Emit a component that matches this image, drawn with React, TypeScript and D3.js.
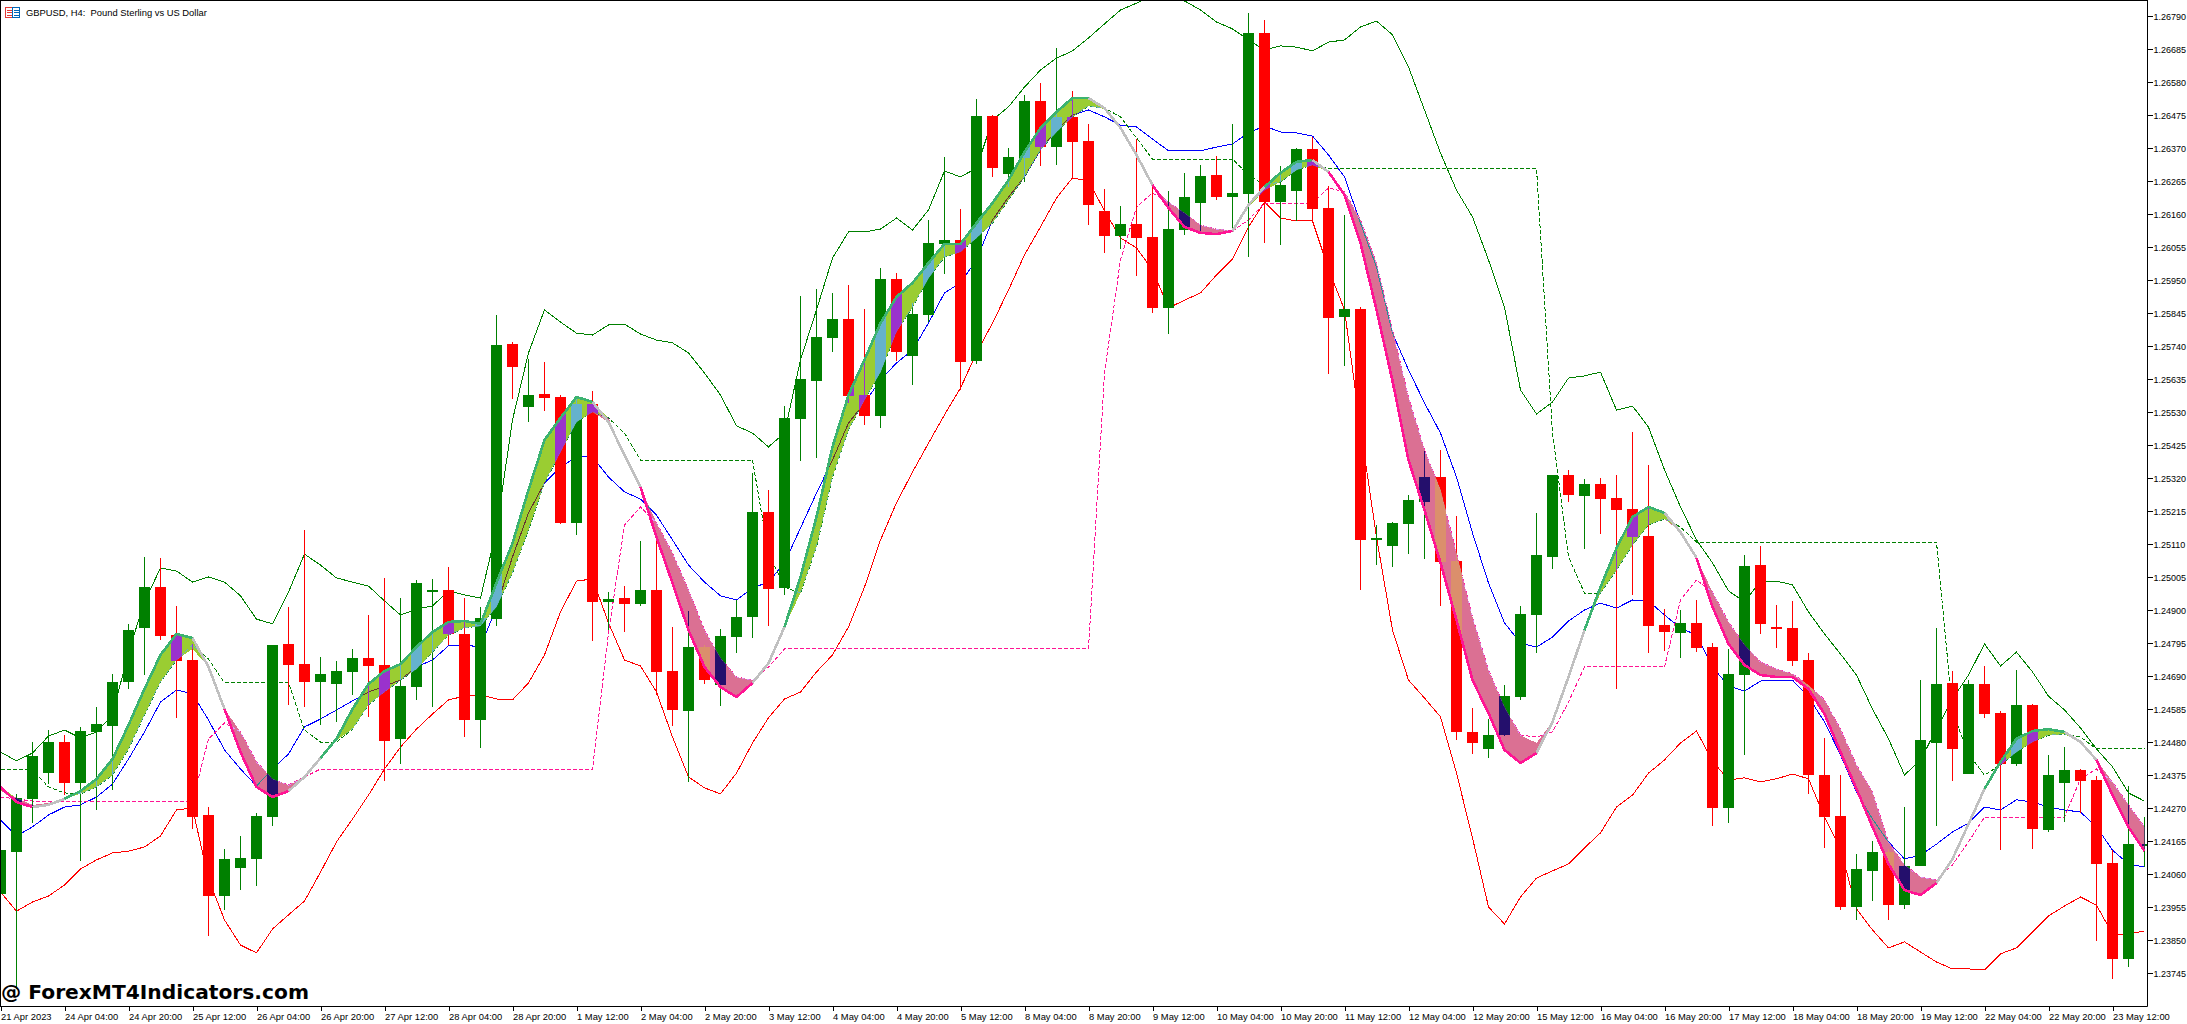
import { useEffect, useRef } from 'react';
import * as d3 from 'd3';

const opens = [
  1.23997, 1.24131, 1.24300, 1.24382, 1.24481, 1.24351, 1.24513, 1.24532, 1.24672, 1.24844,
  1.24974, 1.24821, 1.24742, 1.24249, 1.23991, 1.24080, 1.24109, 1.24242, 1.24793, 1.24729,
  1.24672, 1.24666, 1.24704, 1.24748, 1.24726, 1.24491, 1.24656, 1.24962, 1.24965, 1.24825,
  1.24551, 1.24872, 1.25747, 1.25547, 1.25588, 1.25579, 1.25178, 1.25557, 1.24927, 1.24939,
  1.24920, 1.24965, 1.24707, 1.24580, 1.24783, 1.24662, 1.24815, 1.24879, 1.25213, 1.24971,
  1.25509, 1.25630, 1.25767, 1.25827, 1.25585, 1.25518, 1.25954, 1.25709, 1.25840, 1.26066,
  1.26078, 1.25693, 1.26473, 1.26288, 1.26339, 1.26521, 1.26374, 1.26470, 1.26393, 1.26171,
  1.26091, 1.26129, 1.26088, 1.25862, 1.26110, 1.26196, 1.26285, 1.26215, 1.26225, 1.26737,
  1.26199, 1.26234, 1.26368, 1.26180, 1.25833, 1.25859, 1.25124, 1.25105, 1.25175, 1.25245,
  1.25324, 1.25057, 1.24513, 1.24459, 1.24503, 1.24624, 1.24885, 1.25070, 1.25331, 1.25264,
  1.25302, 1.25257, 1.25222, 1.25137, 1.24853, 1.24828, 1.24860, 1.24783, 1.24271, 1.24694,
  1.25044, 1.24847, 1.24844, 1.24742, 1.24376, 1.24246, 1.23956, 1.24071, 1.24131, 1.23962,
  1.24086, 1.24478, 1.24669, 1.24379, 1.24666, 1.24573, 1.24411, 1.24599, 1.24201, 1.24351,
  1.24392, 1.24360, 1.24096, 1.23791, 1.24153,
];
const closes = [
  1.24137, 1.24303, 1.24437, 1.24481, 1.24351, 1.24516, 1.24538, 1.24672, 1.24837, 1.24974,
  1.24818, 1.24739, 1.24242, 1.23991, 1.24109, 1.24112, 1.24246, 1.24790, 1.24726, 1.24672,
  1.24697, 1.24707, 1.24748, 1.24723, 1.24484, 1.24659, 1.24987, 1.24965, 1.24825, 1.24551,
  1.24876, 1.25744, 1.25674, 1.25585, 1.25576, 1.25178, 1.25557, 1.24927, 1.24936, 1.24920,
  1.24965, 1.24704, 1.24583, 1.24783, 1.24678, 1.24818, 1.24879, 1.25213, 1.24968, 1.25512,
  1.25636, 1.25770, 1.25827, 1.25582, 1.25518, 1.25954, 1.25722, 1.25843, 1.26069, 1.26078,
  1.25690, 1.26473, 1.26307, 1.26342, 1.26521, 1.26374, 1.26470, 1.26390, 1.26190, 1.26091,
  1.26129, 1.26085, 1.25862, 1.26113, 1.26215, 1.26282, 1.26215, 1.26228, 1.26737, 1.26199,
  1.26253, 1.26368, 1.26177, 1.25830, 1.25859, 1.25124, 1.25130, 1.25178, 1.25251, 1.25324,
  1.25054, 1.24513, 1.24478, 1.24503, 1.24627, 1.24888, 1.25076, 1.25331, 1.25267, 1.25302,
  1.25254, 1.25219, 1.25133, 1.24850, 1.24831, 1.24860, 1.24780, 1.24271, 1.24697, 1.25041,
  1.24857, 1.24841, 1.24739, 1.24376, 1.24242, 1.23956, 1.24077, 1.24131, 1.23962, 1.24086,
  1.24487, 1.24666, 1.24459, 1.24666, 1.24570, 1.24411, 1.24599, 1.24204, 1.24376, 1.24392,
  1.24357, 1.24093, 1.23791, 1.24156, 1.24156,
];
const highs = [
  1.24144, 1.24316, 1.24481, 1.24519, 1.24503, 1.24529, 1.24592, 1.24697, 1.24857, 1.25070,
  1.25067, 1.24914, 1.24793, 1.24274, 1.24141, 1.24182, 1.24255, 1.24790, 1.24911, 1.25156,
  1.24752, 1.24739, 1.24777, 1.24885, 1.25003, 1.24939, 1.24997, 1.25000, 1.25038, 1.24939,
  1.24911, 1.25840, 1.25754, 1.25700, 1.25690, 1.25585, 1.25579, 1.25598, 1.24958, 1.24977,
  1.25121, 1.25121, 1.24847, 1.24898, 1.24790, 1.24841, 1.24933, 1.25337, 1.25283, 1.25550,
  1.25900, 1.25922, 1.25910, 1.25935, 1.25859, 1.25989, 1.25973, 1.25878, 1.26142, 1.26342,
  1.26177, 1.26527, 1.26476, 1.26371, 1.26540, 1.26578, 1.26689, 1.26552, 1.26447, 1.26241,
  1.26187, 1.26400, 1.26253, 1.26234, 1.26292, 1.26317, 1.26346, 1.26447, 1.26801, 1.26778,
  1.26314, 1.26371, 1.26406, 1.26250, 1.26158, 1.25865, 1.25171, 1.25181, 1.25267, 1.25407,
  1.25410, 1.25200, 1.24589, 1.24554, 1.24662, 1.24914, 1.25210, 1.25331, 1.25347, 1.25318,
  1.25321, 1.25331, 1.25467, 1.25362, 1.24904, 1.24901, 1.24933, 1.24796, 1.24777, 1.25076,
  1.25105, 1.24917, 1.24930, 1.24764, 1.24494, 1.24376, 1.24125, 1.24166, 1.24141, 1.24274,
  1.24678, 1.24844, 1.24707, 1.24678, 1.24723, 1.24580, 1.24710, 1.24602, 1.24440, 1.24465,
  1.24395, 1.24373, 1.24137, 1.24341, 1.24242,
];
const lows = [
  1.23991, 1.23695, 1.24223, 1.24347, 1.24312, 1.24102, 1.24265, 1.24328, 1.24650, 1.24694,
  1.24806, 1.24558, 1.24204, 1.23864, 1.23947, 1.24010, 1.24023, 1.24214, 1.24599, 1.24592,
  1.24535, 1.24545, 1.24631, 1.24561, 1.24357, 1.24411, 1.24615, 1.24592, 1.24790, 1.24497,
  1.24462, 1.24850, 1.25572, 1.25499, 1.25534, 1.25175, 1.25140, 1.24802, 1.24837, 1.24831,
  1.24914, 1.24631, 1.24532, 1.24354, 1.24666, 1.24596, 1.24764, 1.24812, 1.24850, 1.24949,
  1.25375, 1.25385, 1.25722, 1.25560, 1.25490, 1.25480, 1.25693, 1.25617, 1.25817, 1.25970,
  1.25601, 1.25684, 1.26279, 1.26247, 1.26263, 1.26314, 1.26317, 1.26276, 1.26126, 1.26037,
  1.26050, 1.25964, 1.25846, 1.25779, 1.26094, 1.26101, 1.26206, 1.26110, 1.26024, 1.26069,
  1.26062, 1.26139, 1.26136, 1.25652, 1.25677, 1.24965, 1.25044, 1.25038, 1.25079, 1.25063,
  1.24914, 1.24487, 1.24443, 1.24430, 1.24500, 1.24615, 1.24764, 1.25032, 1.25245, 1.25095,
  1.25143, 1.24650, 1.24949, 1.24764, 1.24771, 1.24748, 1.24767, 1.24214, 1.24223, 1.24440,
  1.24825, 1.24780, 1.24723, 1.24316, 1.24144, 1.23947, 1.23915, 1.23975, 1.23915, 1.23950,
  1.24086, 1.24214, 1.24357, 1.24379, 1.24558, 1.24137, 1.24405, 1.24141, 1.24195, 1.24227,
  1.24255, 1.23848, 1.23727, 1.23765, 1.24083,
];

// envelope around the ribbon
const upperBand = [
  1.24449, 1.24421, 1.24446, 1.24500, 1.24519, 1.24494, 1.24513, 1.24567, 1.24767, 1.24927,
  1.25035, 1.25025, 1.24990, 1.25006, 1.24990, 1.24946, 1.24872, 1.24857, 1.24958, 1.25079,
  1.25044, 1.25003, 1.24990, 1.24977, 1.24930, 1.24885, 1.24904, 1.24914, 1.24962, 1.24949,
  1.24939, 1.25156, 1.25506, 1.25719, 1.25856, 1.25817, 1.25782, 1.25776, 1.25808, 1.25811,
  1.25779, 1.25760, 1.25751, 1.25719, 1.25655, 1.25585, 1.25487, 1.25464, 1.25420, 1.25464,
  1.25697, 1.25856, 1.26021, 1.26104, 1.26104, 1.26113, 1.26148, 1.26110, 1.26174, 1.26298,
  1.26279, 1.26307, 1.26460, 1.26502, 1.26565, 1.26619, 1.26657, 1.26680, 1.26721, 1.26766,
  1.26810, 1.26832, 1.26855, 1.26855, 1.26839, 1.26810, 1.26772, 1.26750, 1.26715, 1.26683,
  1.26696, 1.26692, 1.26680, 1.26708, 1.26715, 1.26756, 1.26775, 1.26731, 1.26629, 1.26492,
  1.26355, 1.26237, 1.26152, 1.26015, 1.25865, 1.25601, 1.25525, 1.25563, 1.25639, 1.25646,
  1.25658, 1.25537, 1.25550, 1.25483, 1.25347, 1.25229, 1.25124, 1.25051, 1.24962, 1.24927,
  1.24993, 1.24993, 1.24981, 1.24895, 1.24825, 1.24761, 1.24694, 1.24586, 1.24491, 1.24376,
  1.24424, 1.24522, 1.24618, 1.24694, 1.24793, 1.24723, 1.24767, 1.24704, 1.24627, 1.24583,
  1.24526, 1.24459, 1.24402, 1.24319, 1.24293,
];
const lowerBand = [
  1.24004, 1.23943, 1.23972, 1.23991, 1.24026, 1.24077, 1.24106, 1.24128, 1.24134, 1.24147,
  1.24182, 1.24265, 1.24271, 1.24045, 1.23915, 1.23835, 1.23810, 1.23886, 1.23931, 1.23975,
  1.24067, 1.24163, 1.24236, 1.24312, 1.24395, 1.24465, 1.24522, 1.24570, 1.24615, 1.24627,
  1.24631, 1.24618, 1.24615, 1.24669, 1.24758, 1.24895, 1.24993, 1.25000, 1.24860, 1.24742,
  1.24723, 1.24640, 1.24497, 1.24370, 1.24335, 1.24316, 1.24382, 1.24478, 1.24558, 1.24618,
  1.24640, 1.24704, 1.24758, 1.24847, 1.24974, 1.25124, 1.25242, 1.25340, 1.25432, 1.25522,
  1.25607, 1.25719, 1.25814, 1.25919, 1.26031, 1.26120, 1.26212, 1.26276, 1.26266, 1.26171,
  1.26085, 1.26053, 1.25983, 1.25862, 1.25887, 1.25910, 1.25967, 1.26018, 1.26120, 1.26199,
  1.26148, 1.26139, 1.26139, 1.25986, 1.25856, 1.25480, 1.25133, 1.24837, 1.24678, 1.24621,
  1.24561, 1.24382, 1.24176, 1.23956, 1.23902, 1.23988, 1.24048, 1.24071, 1.24093, 1.24144,
  1.24192, 1.24274, 1.24312, 1.24382, 1.24424, 1.24478, 1.24516, 1.24421, 1.24360, 1.24367,
  1.24354, 1.24364, 1.24379, 1.24364, 1.24242, 1.24141, 1.23950, 1.23883, 1.23826, 1.23845,
  1.23813, 1.23781, 1.23759, 1.23759, 1.23756, 1.23807, 1.23826, 1.23877, 1.23928, 1.23959,
  1.23988, 1.23962, 1.23870, 1.23870, 1.23880,
];
const midLine = [
  1.24233, 1.24182, 1.24211, 1.24249, 1.24274, 1.24281, 1.24306, 1.24347, 1.24427, 1.24513,
  1.24608, 1.24647, 1.24634, 1.24551, 1.24456, 1.24395, 1.24341, 1.24395, 1.24443, 1.24529,
  1.24554, 1.24583, 1.24612, 1.24640, 1.24659, 1.24678, 1.24720, 1.24742, 1.24787, 1.24790,
  1.24783, 1.24911, 1.25070, 1.25210, 1.25305, 1.25356, 1.25388, 1.25388, 1.25324, 1.25277,
  1.25254, 1.25203, 1.25124, 1.25044, 1.24990, 1.24946, 1.24933, 1.24971, 1.24990, 1.25051,
  1.25162, 1.25273, 1.25378, 1.25496, 1.25560, 1.25633, 1.25687, 1.25728, 1.25814, 1.25910,
  1.25942, 1.26015, 1.26142, 1.26215, 1.26279, 1.26365, 1.26428, 1.26476, 1.26492, 1.26470,
  1.26444, 1.26438, 1.26400, 1.26362, 1.26362, 1.26362, 1.26374, 1.26384, 1.26419, 1.26441,
  1.26422, 1.26419, 1.26409, 1.26349, 1.26279, 1.26132, 1.25992, 1.25782, 1.25665, 1.25560,
  1.25464, 1.25324, 1.25146, 1.24987, 1.24860, 1.24796, 1.24783, 1.24815, 1.24866, 1.24901,
  1.24923, 1.24907, 1.24933, 1.24930, 1.24885, 1.24844, 1.24821, 1.24720, 1.24659, 1.24643,
  1.24675, 1.24678, 1.24678, 1.24624, 1.24545, 1.24440, 1.24322, 1.24236, 1.24163, 1.24109,
  1.24121, 1.24156, 1.24195, 1.24223, 1.24274, 1.24265, 1.24297, 1.24290, 1.24274, 1.24265,
  1.24258, 1.24211, 1.24137, 1.24093, 1.24083,
];

// ribbon edges
const fastLine = [
  1.24338, 1.24290, 1.24274, 1.24281, 1.24300, 1.24325, 1.24363, 1.24427, 1.24535, 1.24650,
  1.24758, 1.24825, 1.24812, 1.24720, 1.24586, 1.24449, 1.24338, 1.24306, 1.24325, 1.24370,
  1.24430, 1.24491, 1.24586, 1.24666, 1.24707, 1.24729, 1.24783, 1.24831, 1.24863, 1.24866,
  1.24857, 1.24987, 1.25114, 1.25283, 1.25442, 1.25512, 1.25579, 1.25563, 1.25499, 1.25394,
  1.25292, 1.25133, 1.24987, 1.24837, 1.24720, 1.24656, 1.24624, 1.24669, 1.24732, 1.24847,
  1.25006, 1.25197, 1.25420, 1.25585, 1.25697, 1.25814, 1.25897, 1.25942, 1.26005, 1.26066,
  1.26066, 1.26132, 1.26196, 1.26269, 1.26358, 1.26435, 1.26486, 1.26530, 1.26530, 1.26498,
  1.26435, 1.26349, 1.26253, 1.26180, 1.26120, 1.26101, 1.26097, 1.26107, 1.26190, 1.26247,
  1.26292, 1.26327, 1.26333, 1.26295, 1.26222, 1.26069, 1.25856, 1.25630, 1.25378, 1.25219,
  1.25051, 1.24869, 1.24678, 1.24573, 1.24456, 1.24414, 1.24446, 1.24545, 1.24688, 1.24837,
  1.24974, 1.25098, 1.25197, 1.25229, 1.25210, 1.25149, 1.25067, 1.24911, 1.24793, 1.24726,
  1.24694, 1.24688, 1.24688, 1.24650, 1.24570, 1.24449, 1.24332, 1.24211, 1.24093, 1.24010,
  1.23994, 1.24032, 1.24109, 1.24220, 1.24332, 1.24418, 1.24491, 1.24516, 1.24522, 1.24513,
  1.24481, 1.24424, 1.24312, 1.24211, 1.24134,
];
const slowLine = [
  1.24328, 1.24303, 1.24281, 1.24287, 1.24300, 1.24316, 1.24338, 1.24376, 1.24459, 1.24567,
  1.24672, 1.24742, 1.24777, 1.24720, 1.24586, 1.24513, 1.24418, 1.24363, 1.24344, 1.24370,
  1.24430, 1.24487, 1.24522, 1.24599, 1.24640, 1.24678, 1.24713, 1.24767, 1.24821, 1.24844,
  1.24850, 1.24911, 1.25019, 1.25156, 1.25305, 1.25404, 1.25499, 1.25531, 1.25512, 1.25394,
  1.25292, 1.25178, 1.25082, 1.24965, 1.24837, 1.24748, 1.24688, 1.24678, 1.24732, 1.24847,
  1.24955, 1.25102, 1.25324, 1.25474, 1.25569, 1.25658, 1.25786, 1.25865, 1.25957, 1.26024,
  1.26040, 1.26085, 1.26132, 1.26206, 1.26279, 1.26365, 1.26422, 1.26470, 1.26505, 1.26495,
  1.26435, 1.26349, 1.26253, 1.26199, 1.26164, 1.26126, 1.26113, 1.26110, 1.26183, 1.26237,
  1.26263, 1.26301, 1.26317, 1.26295, 1.26231, 1.26142, 1.26005, 1.25792, 1.25579, 1.25410,
  1.25283, 1.25082, 1.24879, 1.24710, 1.24592, 1.24503, 1.24478, 1.24545, 1.24688, 1.24837,
  1.24955, 1.25028, 1.25108, 1.25172, 1.25191, 1.25156, 1.25067, 1.24958, 1.24863, 1.24790,
  1.24736, 1.24713, 1.24698, 1.24662, 1.24615, 1.24522, 1.24408, 1.24322, 1.24163, 1.24090,
  1.24052, 1.24042, 1.24109, 1.24220, 1.24332, 1.24408, 1.24449, 1.24481, 1.24503, 1.24506,
  1.24481, 1.24424, 1.24354, 1.24281, 1.24211,
];

// dashed stop levels
const stopGreen = [
  1.24392, 1.24392, 1.24392, 1.24338, 1.24319, 1.24316, 1.24338, 1.24376, 1.24459, 1.24567,
  1.24672, 1.24742, 1.24790, 1.24745, 1.24669, 1.24669, 1.24669, 1.24669, 1.24669, 1.24519,
  1.24481, 1.24481, 1.24522, 1.24599, 1.24640, 1.24678, 1.24713, 1.24767, 1.24821, 1.24844,
  1.24850, 1.24911, 1.25019, 1.25156, 1.25305, 1.25404, 1.25499, 1.25531, 1.25512, 1.25464,
  1.25378, 1.25378, 1.25378, 1.25378, 1.25378, 1.25378, 1.25378, 1.25378, 1.25082, 1.24974,
  1.24955, 1.25102, 1.25324, 1.25474, 1.25569, 1.25658, 1.25786, 1.25865, 1.25957, 1.26024,
  1.26040, 1.26085, 1.26132, 1.26206, 1.26279, 1.26365, 1.26422, 1.26470, 1.26505, 1.26498,
  1.26470, 1.26403, 1.26336, 1.26336, 1.26336, 1.26336, 1.26336, 1.26336, 1.26285, 1.26253,
  1.26263, 1.26301, 1.26317, 1.26307, 1.26307, 1.26307, 1.26307, 1.26307, 1.26307, 1.26307,
  1.26307, 1.26307, 1.26307, 1.26307, 1.26307, 1.26307, 1.26307, 1.25464, 1.25070, 1.24955,
  1.24955, 1.25028, 1.25108, 1.25172, 1.25191, 1.25165, 1.25117, 1.25117, 1.25117, 1.25117,
  1.25117, 1.25117, 1.25117, 1.25117, 1.25117, 1.25117, 1.25117, 1.25117, 1.25117, 1.25117,
  1.25117, 1.25117, 1.24577, 1.24443, 1.24376, 1.24408, 1.24449, 1.24481, 1.24503, 1.24506,
  1.24497, 1.24459, 1.24459, 1.24459, 1.24459,
];
const stopPink = [
  1.24306, 1.24300, 1.24293, 1.24293, 1.24293, 1.24293, 1.24293, 1.24293, 1.24293, 1.24293,
  1.24293, 1.24293, 1.24293, 1.24491, 1.24542, 1.24513, 1.24418, 1.24363, 1.24344, 1.24370,
  1.24395, 1.24395, 1.24395, 1.24395, 1.24395, 1.24395, 1.24395, 1.24395, 1.24395, 1.24395,
  1.24395, 1.24395, 1.24395, 1.24395, 1.24395, 1.24395, 1.24395, 1.24395, 1.24828, 1.25171,
  1.25229, 1.25178, 1.25082, 1.24965, 1.24837, 1.24748, 1.24688, 1.24678, 1.24720, 1.24777,
  1.24777, 1.24777, 1.24777, 1.24777, 1.24777, 1.24777, 1.24777, 1.24777, 1.24777, 1.24777,
  1.24777, 1.24777, 1.24777, 1.24777, 1.24777, 1.24777, 1.24777, 1.24777, 1.24777, 1.25655,
  1.26015, 1.26183, 1.26228, 1.26199, 1.26164, 1.26126, 1.26113, 1.26107, 1.26142, 1.26196,
  1.26196, 1.26196, 1.26196, 1.26244, 1.26231, 1.26142, 1.26005, 1.25792, 1.25579, 1.25410,
  1.25283, 1.25082, 1.24879, 1.24710, 1.24592, 1.24503, 1.24497, 1.24513, 1.24608, 1.24720,
  1.24720, 1.24720, 1.24720, 1.24720, 1.24720, 1.24933, 1.24997, 1.24958, 1.24863, 1.24790,
  1.24736, 1.24713, 1.24698, 1.24662, 1.24615, 1.24522, 1.24408, 1.24322, 1.24163, 1.24090,
  1.24052, 1.24042, 1.24090, 1.24163, 1.24242, 1.24242, 1.24242, 1.24242, 1.24242, 1.24242,
  1.24364, 1.24395, 1.24354, 1.24281, 1.24211,
];

// colour of the thick ribbon line, as [first candle, last candle, trend]
const trendRuns: [number, number, string][] = [
  [0, 2, 'down'], [2, 4, 'flip'], [4, 12, 'up'], [12, 14, 'flip'], [14, 18, 'down'], [18, 20, 'flip'],
  [20, 37, 'up'], [37, 40, 'flip'], [40, 47, 'down'], [47, 49, 'flip'], [49, 68, 'up'], [68, 72, 'flip'],
  [72, 77, 'down'], [77, 79, 'flip'], [79, 82, 'up'], [82, 83, 'flip'], [83, 96, 'down'], [96, 99, 'flip'],
  [99, 104, 'up'], [104, 106, 'flip'], [106, 121, 'down'], [121, 124, 'flip'], [124, 129, 'up'],
  [129, 131, 'flip'], [131, 134, 'down'],
];

const priceTicks = [
  1.2679, 1.26685, 1.2658, 1.26475, 1.2637, 1.26265, 1.2616, 1.26055, 1.2595, 1.25845,
  1.2574, 1.25635, 1.2553, 1.25425, 1.2532, 1.25215, 1.2511, 1.25005, 1.249, 1.24795,
  1.2469, 1.24585, 1.2448, 1.24375, 1.2427, 1.24165, 1.2406, 1.23955, 1.2385, 1.23745,
];
const timeLabels = [
  '21 Apr 2023', '24 Apr 04:00', '24 Apr 20:00', '25 Apr 12:00', '26 Apr 04:00', '26 Apr 20:00',
  '27 Apr 12:00', '28 Apr 04:00', '28 Apr 20:00', '1 May 12:00', '2 May 04:00', '2 May 20:00',
  '3 May 12:00', '4 May 04:00', '4 May 20:00', '5 May 12:00', '8 May 04:00', '8 May 20:00',
  '9 May 12:00', '10 May 04:00', '10 May 20:00', '11 May 12:00', '12 May 04:00', '12 May 20:00',
  '15 May 12:00', '16 May 04:00', '16 May 20:00', '17 May 12:00', '18 May 04:00', '18 May 20:00',
  '19 May 12:00', '22 May 04:00', '22 May 20:00', '23 May 12:00',
];
const TIME_STEP = 4;

const BULL = '#008000';
const BEAR = '#ff0000';
const UP_FILL = '#9acd32';
const DOWN_FILL = '#db7093';
const trendColor: Record<string, string> = { up: '#3cb371', down: '#ff1493', flip: '#c0c0c0' };

// the terminal paints the ribbon with XOR, so bars under it change colour
function xorPaint(base: string, fill: string) {
  const b = d3.rgb(base);
  const f = d3.rgb(fill);
  return d3.rgb(b.r ^ (255 - f.r), b.g ^ (255 - f.g), b.b ^ (255 - f.b)).formatHex();
}

const AXIS_FONT = '"Liberation Sans", Arial, sans-serif';

export default function App() {
  const svgRef = useRef<SVGSVGElement>(null);

  useEffect(() => {
    if (!svgRef.current) return;
    const svg = d3.select(svgRef.current);
    svg.selectAll('*').remove();

    const plotRight = 2147;
    const plotBottom = 1006;
    const idx = d3.range(opens.length);

    const x = d3.scaleLinear().domain([0, 134]).range([0.5, 2144.5]);
    const y = d3.scaleLinear().domain([1.2679, 1.23745]).range([16.33, 973.33]);

    svg.append('rect').attr('width', 2187).attr('height', 1024).attr('fill', '#fff');

    const defs = svg.append('defs');
    defs.append('clipPath').attr('id', 'plot').append('rect')
      .attr('x', 1).attr('y', 1).attr('width', plotRight - 1).attr('height', plotBottom - 1);

    const linePath = (values: number[]) =>
      d3.line<number>().x(i => x(i)).y(i => y(values[i]))(idx) as string;

    const upArea = d3.area<number>().x(i => x(i))
      .y0(i => y(slowLine[i])).y1(i => y(Math.max(fastLine[i], slowLine[i])))(idx) as string;
    const downArea = d3.area<number>().x(i => x(i))
      .y0(i => y(slowLine[i])).y1(i => y(Math.min(fastLine[i], slowLine[i])))(idx) as string;
    defs.append('clipPath').attr('id', 'rib-up').append('path').attr('d', upArea);
    defs.append('clipPath').attr('id', 'rib-down').append('path').attr('d', downArea);

    const plot = svg.append('g').attr('clip-path', 'url(#plot)').attr('shape-rendering', 'crispEdges');

    const series: { values: number[]; color: string; dash?: string }[] = [
      { values: upperBand, color: BULL },
      { values: lowerBand, color: BEAR },
      { values: midLine, color: '#0000ff' },
      { values: stopGreen, color: BULL, dash: '4 2' },
      { values: stopPink, color: '#ff1493', dash: '4 2' },
    ];

    const drawLines = (g: d3.Selection<SVGGElement, unknown, null, undefined>, paint: (c: string) => string) => {
      series.forEach(s => {
        g.append('path')
          .attr('d', linePath(s.values))
          .attr('fill', 'none')
          .attr('stroke', paint(s.color))
          .attr('stroke-width', 1)
          .attr('stroke-dasharray', s.dash ?? null);
      });
    };

    const drawCandles = (g: d3.Selection<SVGGElement, unknown, null, undefined>, paint: (c: string) => string) => {
      idx.forEach(i => {
        const col = paint(closes[i] >= opens[i] ? BULL : BEAR);
        const cx = x(i);
        g.append('rect')
          .attr('x', cx - 0.5).attr('width', 1)
          .attr('y', y(highs[i])).attr('height', Math.max(1, y(lows[i]) - y(highs[i])))
          .attr('fill', col);
        const top = y(Math.max(opens[i], closes[i]));
        const bot = y(Math.min(opens[i], closes[i]));
        g.append('rect')
          .attr('x', cx - 5.5).attr('width', 11)
          .attr('y', top).attr('height', Math.max(2, bot - top))
          .attr('fill', col);
      });
    };

    // thin lines sit behind the bars
    drawLines(plot.append('g'), c => c);
    plot.append('path').attr('d', upArea).attr('fill', UP_FILL);
    plot.append('path').attr('d', downArea).attr('fill', DOWN_FILL);
    drawCandles(plot.append('g'), c => c);

    // what the ribbon does to anything underneath it
    [['rib-up', UP_FILL], ['rib-down', DOWN_FILL]].forEach(([id, fill]) => {
      const g = plot.append('g').attr('clip-path', `url(#${id})`);
      g.append('path').attr('d', id === 'rib-up' ? upArea : downArea).attr('fill', fill);
      drawLines(g, c => xorPaint(c, fill));
      drawCandles(g, c => xorPaint(c, fill));
    });

    trendRuns.forEach(([from, to, trend]) => {
      plot.append('path')
        .attr('d', d3.line<number>().x(i => x(i)).y(i => y(fastLine[i]))(d3.range(from, to + 1)) as string)
        .attr('fill', 'none')
        .attr('stroke', trendColor[trend])
        .attr('stroke-width', 2.6)
        .attr('stroke-linejoin', 'round');
    });

    // axes
    const yAxis = svg.append('g')
      .attr('transform', `translate(${plotRight + 0.5},0)`)
      .call(d3.axisRight(y).tickValues(priceTicks).tickFormat(d3.format('.5f') as any).tickSize(5).tickPadding(1));
    yAxis.select('.domain').attr('d', `M0,0V${plotBottom + 0.5}`).attr('stroke', '#000');
    yAxis.selectAll('text').attr('font-size', 9).attr('font-family', AXIS_FONT).attr('fill', '#000');
    yAxis.selectAll('line').attr('shape-rendering', 'crispEdges');

    const timeTicks = timeLabels.map((_, k) => k * TIME_STEP);
    const xAxis = svg.append('g')
      .attr('transform', `translate(0,${plotBottom + 0.5})`)
      .call(d3.axisBottom(x).tickValues(timeTicks)
        .tickFormat(((d: number) => timeLabels[d / TIME_STEP]) as any).tickSize(4).tickPadding(3));
    xAxis.select('.domain').attr('d', `M0,0H${plotRight + 0.5}`).attr('stroke', '#000');
    xAxis.selectAll('text')
      .attr('font-size', 9.4).attr('font-family', AXIS_FONT).attr('fill', '#000')
      .attr('text-anchor', 'start').attr('y', 13).attr('dy', 0);
    xAxis.selectAll('line').attr('shape-rendering', 'crispEdges');

    // frame top and left
    svg.append('path').attr('d', `M0.5,${plotBottom}V0.5H${plotRight}`)
      .attr('fill', 'none').attr('stroke', '#000').attr('shape-rendering', 'crispEdges');

    // symbol icon + title
    const icon = svg.append('g').attr('shape-rendering', 'crispEdges').attr('fill', 'none');
    icon.append('rect').attr('x', 5.5).attr('y', 7.5).attr('width', 7).attr('height', 9.5).attr('stroke', '#e53935');
    icon.append('rect').attr('x', 12.5).attr('y', 7.5).attr('width', 7).attr('height', 9.5).attr('stroke', '#0067b8');
    [10, 12.5, 15].forEach(ly => {
      icon.append('path').attr('d', `M7,${ly}H12`).attr('stroke', '#e53935');
      icon.append('path').attr('d', `M14,${ly}H19`).attr('stroke', '#0067b8');
    });
    svg.append('text')
      .attr('x', 26).attr('y', 15.5)
      .attr('font-size', 9.4).attr('font-family', AXIS_FONT).attr('fill', '#000')
      .attr('xml:space', 'preserve').style('white-space', 'pre')
      .text('GBPUSD, H4:  Pound Sterling vs US Dollar');

    svg.append('text')
      .attr('x', 1).attr('y', 999)
      .attr('font-size', 20).attr('font-weight', 700)
      .attr('font-family', '"DejaVu Sans", sans-serif').attr('fill', '#000')
      .attr('textLength', 308).attr('lengthAdjust', 'spacingAndGlyphs')
      .text('@ ForexMT4Indicators.com');
  }, []);

  return (
    <svg
      ref={svgRef}
      width={2187}
      height={1024}
      style={{ position: 'absolute', left: 0, top: 0, display: 'block' }}
    />
  );
}
